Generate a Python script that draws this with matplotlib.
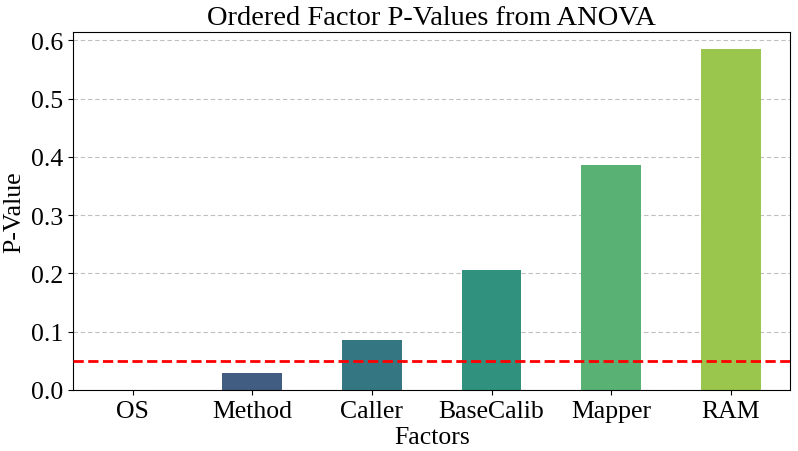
import matplotlib
matplotlib.use("Agg")
import matplotlib.pyplot as plt
from matplotlib.ticker import MultipleLocator
import seaborn as sns

# ANOVA p-values per factor (ordered)
factors = ["OS", "Method", "Caller", "BaseCalib", "Mapper", "RAM"]
p_values = [0.0005, 0.029, 0.086, 0.206, 0.386, 0.585]
alpha_level = 0.05

plt.rcParams["font.family"] = ["Liberation Serif", "DejaVu Serif"]

colors = [sns.desaturate(c, 0.75) for c in sns.color_palette("viridis", len(factors))]

fig = plt.figure(figsize=(7.98, 4.52), dpi=100)
ax = fig.add_axes([0.0915, 0.135, 0.899, 0.792])

ax.bar(range(len(factors)), p_values, width=0.5, color=colors, zorder=2)
ax.axhline(alpha_level, color="red", linestyle="--", linewidth=2, zorder=3)

ax.set_xticks(range(len(factors)))
ax.set_xticklabels(factors)
ax.set_xlim(-0.5, len(factors) - 0.5)
ax.set_ylim(0, max(p_values) * 1.05)
ax.yaxis.set_major_locator(MultipleLocator(0.1))
ax.grid(axis="y", linestyle=(0, (4, 2.5)), color="gray", alpha=0.5, zorder=0)

ax.tick_params(labelsize=18.5)
ax.set_title("Ordered Factor P-Values from ANOVA", fontsize=20.5, pad=6)
ax.set_xlabel("Factors", fontsize=18.5, labelpad=3)
ax.set_ylabel("P-Value", fontsize=18.5, labelpad=4)

fig.savefig("out.png", dpi=100)
